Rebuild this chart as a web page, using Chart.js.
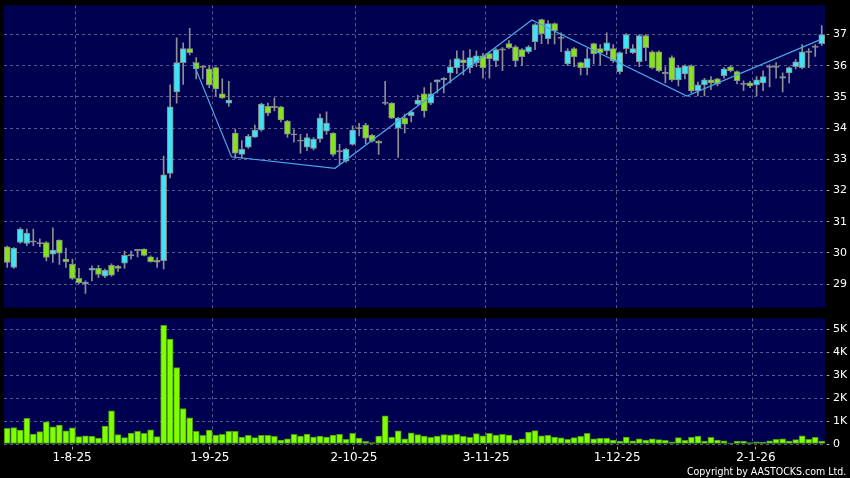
<!DOCTYPE html>
<html>
<head>
<meta charset="utf-8">
<script src="https://cdn.jsdelivr.net/npm/chart.js@4.4.1/dist/chart.umd.min.js"></script>
<style>
  html, body { margin: 0; padding: 0; background: #000; }
  #wrap { position: relative; width: 850px; height: 478px; overflow: hidden; background: #000; }
  #priceChart { position: absolute; left: 0; top: 0; }
  #volChart { position: absolute; left: 0; top: 312px; }
  #copy { position: absolute; right: 4px; top: 465px; font: 11px "DejaVu Sans"; line-height: 13px; color: #fff;
          white-space: nowrap; transform: scaleX(0.86); transform-origin: right center; }
</style>
</head>
<body>
<div id="wrap">
  <canvas id="priceChart" width="850" height="312"></canvas>
  <canvas id="volChart" width="850" height="166"></canvas>
  <div id="copy">Copyright by AASTOCKS.com Ltd.</div>
</div>
<script>
// daily candles, 18 Jul 2025 .. 19 Jan 2026 (index = trading day)
var opens = [
  30.19, 29.53, 30.33, 30.30, 30.35, 30.31, 30.33, 29.96, 30.41, 29.80,
  29.63, 29.18, 29.00, 29.44, 29.50, 29.25, 29.60, 29.57, 29.67, 29.92,
  30.09, 30.12, 29.87, 29.76, 29.75, 32.55, 35.16, 36.10, 36.55, 36.10,
  35.97, 35.90, 35.94, 35.10, 34.80, 33.84, 33.16, 33.39, 33.71, 33.94,
  34.70, 34.68, 34.68, 34.23, 33.80, 33.60, 33.39, 33.35, 33.65, 33.90,
  33.84, 33.26, 32.94, 33.48, 34.00, 34.10, 33.77, 33.58, 34.80, 34.80,
  34.00, 34.32, 34.40, 34.77, 35.10, 34.80, 35.48, 35.55, 35.77, 35.94,
  36.19, 35.94, 36.10, 36.32, 36.39, 36.16, 36.52, 36.71, 36.61, 36.52,
  36.45, 36.77, 37.48, 36.87, 37.35, 36.90, 36.06, 36.55, 36.10, 35.94,
  36.71, 36.55, 36.48, 36.55, 35.81, 36.55, 36.42, 36.13, 36.97, 36.45,
  36.45, 35.77, 36.26, 35.55, 35.74, 36.00, 35.19, 35.39, 35.55, 35.58,
  35.68, 35.97, 35.81, 35.42, 35.45, 35.39, 35.45, 35.97, 35.97, 35.60,
  35.77, 35.97, 35.94, 36.45, 36.61, 36.71
];
var highs = [
  30.22, 30.17, 30.80, 30.76, 30.76, 30.44, 30.36, 30.80, 30.42, 30.15,
  29.80, 29.50, 29.10, 29.58, 29.60, 29.48, 29.65, 29.60, 30.06, 30.06,
  30.10, 30.13, 29.90, 29.85, 33.10, 35.39, 36.90, 36.74, 37.20, 36.26,
  36.00, 36.00, 35.97, 35.58, 35.50, 33.97, 33.60, 33.80, 34.10, 34.80,
  34.80, 34.97, 34.70, 34.25, 33.95, 33.80, 33.82, 33.70, 34.45, 34.52,
  33.86, 33.48, 33.35, 34.07, 34.15, 34.15, 33.80, 33.60, 35.50, 34.82,
  34.35, 34.45, 34.55, 35.05, 35.30, 35.45, 35.55, 35.62, 36.19, 36.48,
  36.48, 36.52, 36.48, 36.40, 36.45, 36.55, 36.58, 36.81, 36.65, 36.55,
  36.65, 37.35, 37.50, 37.45, 37.38, 37.06, 36.55, 36.58, 36.12, 36.55,
  36.73, 36.68, 37.06, 36.68, 36.45, 37.03, 36.68, 37.00, 37.00, 36.48,
  36.48, 35.97, 36.32, 36.00, 36.03, 36.03, 35.48, 35.60, 35.65, 35.60,
  35.94, 36.00, 35.84, 35.52, 35.50, 35.65, 35.84, 36.03, 36.10, 35.77,
  35.97, 36.20, 36.68, 36.55, 36.68, 37.29
];
var lows = [
  29.53, 29.50, 30.30, 30.23, 30.23, 30.20, 29.74, 29.69, 29.63, 29.53,
  29.15, 29.00, 28.70, 29.10, 29.20, 29.20, 29.25, 29.40, 29.50, 29.80,
  29.87, 29.90, 29.70, 29.53, 29.48, 32.40, 34.80, 35.40, 36.35, 35.58,
  35.58, 35.30, 35.03, 34.95, 34.70, 33.03, 33.03, 33.35, 33.70, 33.90,
  34.40, 34.55, 34.20, 33.70, 33.55, 33.20, 33.28, 33.30, 33.55, 33.80,
  33.10, 32.84, 32.90, 33.45, 33.75, 33.50, 33.55, 33.16, 34.75, 34.30,
  33.06, 33.85, 34.20, 34.75, 34.35, 34.75, 35.13, 35.13, 35.45, 35.75,
  35.71, 35.77, 35.97, 35.60, 35.60, 35.97, 35.84, 36.55, 35.97, 36.00,
  36.40, 36.52, 36.71, 36.70, 36.70, 36.45, 36.00, 35.97, 35.71, 35.71,
  36.06, 36.03, 36.35, 36.10, 35.74, 36.39, 36.39, 35.97, 36.16, 35.90,
  35.80, 35.45, 35.50, 35.35, 35.58, 35.13, 35.03, 35.03, 35.23, 35.35,
  35.60, 35.80, 35.42, 35.20, 35.30, 35.03, 35.20, 35.32, 35.60, 35.16,
  35.45, 35.90, 35.90, 35.94, 36.30, 36.65
];
var closes = [
  29.69, 30.15, 30.76, 30.63, 30.38, 30.31, 29.85, 30.09, 29.99, 29.72,
  29.18, 29.04, 29.06, 29.50, 29.31, 29.44, 29.28, 29.50, 29.92, 29.92,
  30.09, 29.92, 29.72, 29.70, 32.50, 34.68, 36.10, 36.55, 36.42, 35.90,
  35.97, 35.39, 35.26, 34.97, 34.90, 33.20, 33.32, 33.74, 33.94, 34.77,
  34.48, 34.68, 34.26, 33.81, 33.80, 33.60, 33.70, 33.65, 34.32, 34.16,
  33.16, 33.26, 33.32, 33.94, 34.00, 33.68, 33.58, 33.52, 34.82, 34.32,
  34.32, 34.13, 34.52, 34.90, 34.55, 35.10, 35.55, 35.60, 35.97, 36.23,
  36.10, 36.26, 36.32, 35.94, 36.23, 36.52, 36.52, 36.58, 36.16, 36.29,
  36.61, 37.32, 37.03, 37.35, 37.13, 36.90, 36.48, 36.29, 35.94, 36.23,
  36.39, 36.42, 36.74, 36.16, 36.42, 37.00, 36.55, 36.97, 36.58, 35.94,
  35.84, 35.77, 35.55, 35.94, 36.00, 35.19, 35.39, 35.55, 35.45, 35.42,
  35.90, 35.84, 35.52, 35.42, 35.35, 35.55, 35.65, 35.97, 35.97, 35.65,
  35.94, 36.13, 36.45, 36.45, 36.61, 37.00
];
var volumes = [
  680, 720, 610, 1120, 430, 540, 970, 750, 830, 570,
  710, 320, 360, 330, 260, 780, 1450, 410, 280, 480,
  550, 460, 620, 320, 5170, 4570, 3330, 1540, 1140, 550,
  380, 610, 390, 420, 550, 550, 300, 380, 280, 380,
  380, 330, 170, 230, 420, 350, 430, 300, 350, 300,
  390, 420, 200, 460, 260, 120, 60, 350, 1230, 300,
  570, 230, 490, 410, 350, 290, 350, 410, 390, 420,
  330, 290, 450, 360, 460, 390, 420, 390, 170, 220,
  520, 580, 360, 380, 300, 270, 200, 280, 330, 460,
  220, 250, 250, 170, 130, 300, 140, 230, 170, 220,
  190, 160, 90, 280, 160, 290, 350, 130, 290, 170,
  140, 40, 130, 130, 60, 90, 70, 140, 200, 230,
  130, 190, 360, 200, 290, 130
];

// zigzag trend line (vertex position in trading days, price)
var trendIdx = [28.5, 34.4, 50.3, 80.5, 104.3, 124.7];
var trendPrice = [36.12, 33.08, 32.71, 37.47, 35.03, 36.83];

// axis ticks
var priceTicks = [29, 30, 31, 32, 33, 34, 35, 36, 37];
var volTicks = [0, 1000, 2000, 3000, 4000, 5000];
var tickLabels = ['1-8-25', '1-9-25', '2-10-25', '3-11-25', '1-12-25', '2-1-26'];
var labelPos = [9.95, 31.1, 53.2, 73.5, 93.6, 114.9];
var gridPos = [10.43, 31.43, 53.43, 73.43, 93.43, 114.43];

var PANEL = '#000050';
var GRID = 'rgba(120,120,170,0.75)';
var TICKC = '#a8a8a8';
var UP = '#3fe3f3';
var DOWN = '#84e31c';
var FLAT = '#9a9a9a';
var WICK = '#8e8e8e';
var FONT = 'DejaVu Sans';

var panelBg = {
    id: 'panelBg',
    beforeDraw: function(chart) {
        var a = chart.chartArea, ctx = chart.ctx;
        ctx.save();
        ctx.fillStyle = PANEL;
        ctx.fillRect(a.left, a.top, a.right - a.left, a.bottom - a.top);
        ctx.restore();
    }
};

var wicks = [], bodies = [], bodyColors = [], vols = [];
for (var i = 0; i < opens.length; i++) {
    wicks.push({x: i, y: [lows[i], highs[i]]});
    var lo = Math.min(opens[i], closes[i]), hi = Math.max(opens[i], closes[i]);
    if (hi - lo < 0.04) { var m = (lo + hi) / 2; lo = m - 0.02; hi = m + 0.02; }
    bodies.push({x: i, y: [lo, hi]});
    var d = closes[i] - opens[i];
    bodyColors.push(Math.abs(d) < 0.03 ? FLAT : (d > 0 ? UP : DOWN));
    vols.push({x: i, y: volumes[i]});
}

function setTicks(list) {
    return function(s) { s.ticks = list.map(function(v) { return {value: v}; }); };
}
function rightAxisFit(s) { s.width = 25; s.paddingTop = 0; s.paddingBottom = 0; }

var priceChart = new Chart(document.getElementById('priceChart'), {
    type: 'bar',
    plugins: [panelBg],
    data: {
        datasets: [
            { type: 'line', data: trendIdx.map(function(x, k) { return {x: x, y: trendPrice[k]}; }),
              borderColor: '#4aa6e4', borderWidth: 1.2, pointRadius: 0, order: 0 },
            { data: bodies, backgroundColor: bodyColors, borderColor: '#8a8a8a', borderWidth: 1,
              borderSkipped: false, barThickness: 6, grouped: false, order: 1 },
            { data: wicks, backgroundColor: WICK, barThickness: 1, grouped: false, order: 2 }
        ]
    },
    options: {
        responsive: false, animation: false, devicePixelRatio: 1,
        layout: { padding: { left: 4, top: 5.3, right: 0, bottom: 4.3 } },
        plugins: { legend: { display: false }, tooltip: { enabled: false } },
        scales: {
            x: {
                type: 'linear', min: -0.5, max: 125.5, offset: false,
                afterBuildTicks: setTicks(gridPos),
                afterFit: function(s) { s.height = 0; s.paddingLeft = 0; s.paddingRight = 0; },
                ticks: { display: false },
                grid: { color: GRID, drawTicks: false, offset: false },
                border: { display: false, dash: [3, 3] }
            },
            y: {
                position: 'right', min: 28.24, max: 37.94,
                afterBuildTicks: setTicks(priceTicks),
                afterFit: rightAxisFit,
                ticks: { color: '#fff', padding: 3, font: { family: FONT, size: 11 } },
                grid: { color: GRID, tickColor: TICKC, tickLength: 5, tickBorderDash: [0, 1.7, 2.6, 10] },
                border: { display: false, dash: [3, 3] }
            }
        }
    }
});

var volChart = new Chart(document.getElementById('volChart'), {
    type: 'bar',
    plugins: [panelBg],
    data: {
        datasets: [
            { data: vols, backgroundColor: '#80ff00', borderColor: '#4a9a10', borderWidth: 1,
              borderSkipped: false, barThickness: 6 }
        ]
    },
    options: {
        responsive: false, animation: false, devicePixelRatio: 1,
        layout: { padding: { left: 4, top: 6.3, right: 0, bottom: 0 } },
        plugins: { legend: { display: false }, tooltip: { enabled: false } },
        scales: {
            x: {
                type: 'linear', min: -0.5, max: 125.5, offset: false,
                afterBuildTicks: setTicks(labelPos),
                afterFit: function(s) { s.height = 34; s.paddingLeft = 0; s.paddingRight = 0; },
                ticks: { callback: function(v, k) { return tickLabels[k]; }, color: '#fff', padding: 1.3,
                         maxRotation: 0, autoSkip: false, font: { family: FONT, size: 12 } },
                grid: { drawOnChartArea: false, tickColor: TICKC, tickLength: 5.5,
                        tickBorderDash: [0, 2.7, 2.8, 10], offset: false },
                border: { display: false }
            },
            xg: {
                type: 'linear', position: 'bottom', min: -0.5, max: 125.5, offset: false,
                afterBuildTicks: setTicks(gridPos),
                afterFit: function(s) { s.height = 0; s.paddingLeft = 0; s.paddingRight = 0; },
                ticks: { display: false },
                grid: { color: GRID, drawTicks: false, offset: false },
                border: { display: false, dash: [3, 3] }
            },
            y: {
                position: 'right', min: 0, max: 5480,
                afterBuildTicks: setTicks(volTicks),
                afterFit: rightAxisFit,
                ticks: { color: '#fff', padding: 3, font: { family: FONT, size: 11 },
                         callback: function(v) { return v === 0 ? '0' : (v / 1000) + 'K'; } },
                grid: { color: GRID, tickColor: TICKC, tickLength: 5, tickBorderDash: [0, 1.7, 2.6, 10] },
                border: { display: false, dash: [3, 3] }
            }
        }
    }
});
</script>
</body>
</html>
